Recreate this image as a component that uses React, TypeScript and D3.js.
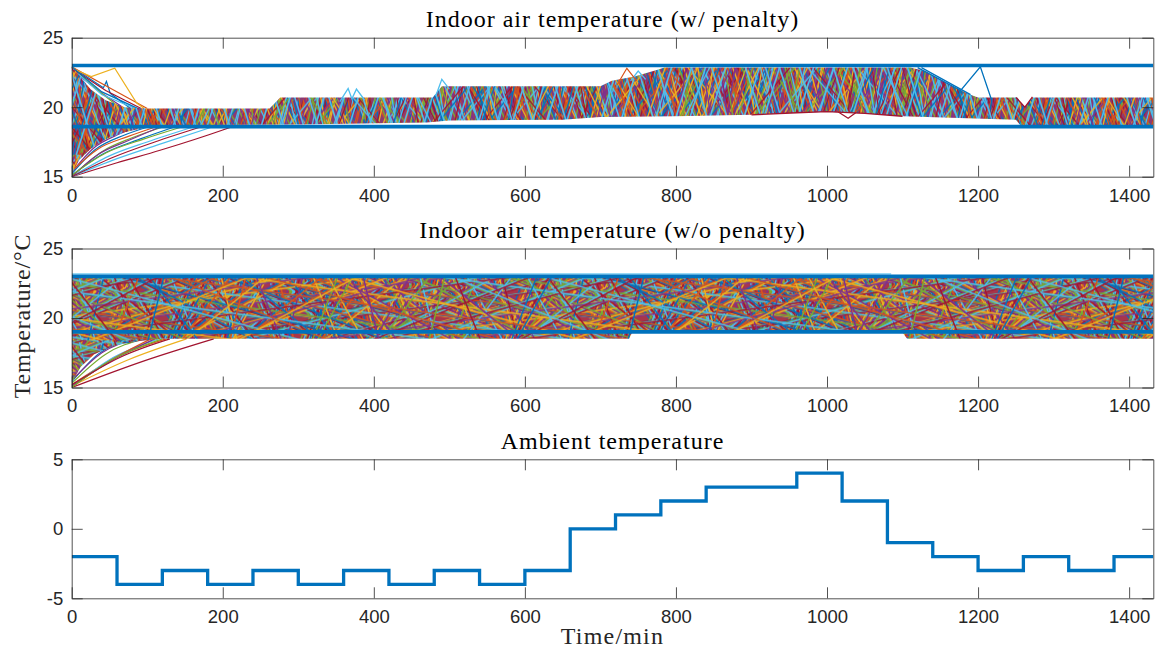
import React, { useEffect, useRef } from "react";
import * as d3 from "d3";

// MATLAB default line colours
const palette = ["#0072BD", "#D95319", "#EDB120", "#7E2F8E", "#77AC30", "#4DBEEE", "#A2142F"];

const timeMax = 1432;
const xTicks = [0, 200, 400, 600, 800, 1000, 1200, 1400];
const indoorTicks = [15, 20, 25];
const ambientTicks = [-5, 0, 5];

const titles = [
  "Indoor air temperature (w/ penalty)",
  "Indoor air temperature (w/o penalty)",
  "Ambient temperature",
];

// comfort bounds (thick blue lines)
const boundsPenalty = [18.6, 23];
const boundsNoPenalty = [19, 23];

// ambient temperature, hourly steps
const ambientHours = [0, 60, 120, 180, 240, 300, 360, 420, 480, 540, 600, 660, 720, 780, 840, 900, 960, 1020, 1080, 1140, 1200, 1260, 1320, 1380];
const ambientTemp = [-2, -4, -3, -4, -3, -4, -3, -4, -3, -4, -3, 0, 1, 2, 3, 3, 4, 2, -1, -2, -3, -2, -3, -2];

// envelope of the many trajectories, w/ penalty  [time, temp]
const penaltyUpper: [number, number][] = [
  [0, 22.9], [10, 22.3], [25, 21.3], [45, 20.5], [70, 20.0], [100, 19.9], [262, 19.9], [276, 20.7],
  [478, 20.7], [490, 21.5], [700, 21.5], [715, 21.9], [745, 22.2], [770, 22.6], [785, 22.85],
  [1110, 22.85], [1130, 22.6], [1150, 22.0], [1170, 21.4], [1190, 20.9], [1200, 20.7], [1252, 20.7],
  [1262, 20.0], [1272, 20.7], [1432, 20.7],
];
const penaltyLower: [number, number][] = [
  [0, 15.2], [10, 16.2], [25, 17.0], [45, 17.7], [70, 18.2], [100, 18.55], [130, 18.7], [300, 18.75],
  [470, 18.9], [500, 19.05], [650, 19.1], [700, 19.3], [800, 19.35], [900, 19.45], [960, 19.6],
  [1000, 19.68], [1050, 19.55], [1100, 19.35], [1250, 19.1], [1256, 18.7], [1432, 18.65],
];

// envelope, w/o penalty
const noPenaltyUpper: [number, number][] = [[0, 22.9], [1432, 22.9]];
const noPenaltyLower: [number, number][] = [
  [0, 15.3], [12, 16.5], [30, 17.4], [55, 18.0], [90, 18.35], [120, 18.5], [738, 18.5], [742, 18.95],
  [1100, 18.95], [1106, 18.5], [1432, 18.5],
];

// individual trajectories that stand out of the mass
const penaltyRise: [number, number][][] = [
  [[0, 15.2], [30, 16.9], [70, 18.0], [105, 18.65]],
  [[0, 15.6], [25, 17.3], [50, 18.1], [75, 18.65]],
  [[0, 16.0], [20, 17.4], [45, 18.2], [65, 18.65]],
  [[0, 15.3], [30, 17.1], [60, 18.0], [90, 18.65]],
  [[0, 15], [40, 16.8], [80, 17.8], [125, 18.65]],
  [[0, 15], [50, 16.5], [100, 17.5], [165, 18.65]],
  [[0, 15], [60, 16.0], [117, 16.9], [200, 18.36], [215, 18.65]],
  [[0, 15.1], [40, 16.6], [90, 17.7], [140, 18.65]],
  [[0, 15.4], [35, 17.0], [75, 17.9], [115, 18.65]],
  [[0, 15.8], [30, 17.4], [60, 18.1], [85, 18.65]],
  [[0, 15.0], [35, 16.6], [75, 17.6], [120, 18.65]],
  [[0, 15.1], [45, 16.7], [95, 17.7], [150, 18.65]],
  [[0, 15], [60, 16.3], [120, 17.4], [190, 18.65]],
  [[0, 15], [55, 16.4], [110, 17.5], [175, 18.65]],
];
const penaltyFall: [number, number][][] = [
  [[0, 22.9], [42, 21.4], [46, 21.85], [51, 21.0], [78, 19.9]],
  [[0, 22.9], [50, 21.4], [100, 19.9]],
  [[0, 22.8], [26, 22.2], [57, 22.8], [86, 20.3], [96, 19.9]],
  [[0, 22.7], [40, 21.0], [70, 19.9]],
  [[0, 22.9], [35, 21.2], [65, 19.9]],
  [[0, 22.9], [6, 22.5], [40, 20.9], [85, 19.9]],
  [[0, 22.8], [45, 21.2], [92, 19.9]],
  [[0, 22.9], [40, 21.1], [88, 19.9]],
];
const penaltyCyanSpikes: [number, number][][] = [
  [[355, 20.4], [366, 21.35], [371, 20.6], [377, 21.3], [388, 20.5]],
  [[482, 20.8], [490, 22.0], [500, 21.3]],
  [[740, 21.9], [750, 22.6], [760, 22.0]],
];
const penaltyOrangeSpikes: [number, number][][] = [
  [[722, 21.6], [735, 22.8], [748, 21.9]],
];
const penaltyBlueSpikes: [number, number][][] = [
  [[1120, 22.85], [1177, 21.2], [1203, 22.9], [1218, 20.5]],
  [[1125, 22.85], [1190, 20.9]],
];
const penaltyRedSpikes: [number, number][][] = [
  [[1250, 20.7], [1262, 20.0], [1272, 20.75]],
  [[1015, 19.65], [1028, 19.2], [1038, 19.6]],
  [[900, 19.45], [960, 19.6], [1000, 19.68], [1050, 19.55], [1100, 19.35]],
];

const noPenaltyRise: [number, number][][] = [
  [[0, 15.4], [35, 17.4], [80, 18.5]],
  [[0, 15.2], [60, 17.2], [125, 18.5]],
  [[0, 15.1], [75, 17.0], [152, 18.5]],
  [[0, 15.5], [40, 17.5], [85, 18.5]],
  [[0, 15.3], [45, 17.4], [95, 18.5]],
  [[0, 15.0], [50, 17.0], [115, 18.5]],
  [[0, 15], [95, 16.9], [188, 18.5]],
  [[0, 15.8], [30, 17.6], [70, 18.5]],
  [[0, 15], [50, 16.9], [105, 18.5]],
  [[0, 16.2], [25, 17.8], [60, 18.5]],
  [[0, 15.1], [55, 17.0], [110, 18.5]],
  [[0, 15.0], [50, 16.9], [120, 18.5]],
  [[0, 16.6], [25, 18.0], [50, 18.5]],
  [[0, 15.2], [65, 17.2], [130, 18.5]],
];
const noPenaltyTopEdge: [number, number][] = [[0, 23.17], [1085, 23.17]];

const W = 1163, H = 654;
const plotLeft = 71.7, plotRight = 1153.3, plotH = 139;
const panelTops = [37.7, 248.5, 459.3];
const axisColor = "#262626";
const sans = "'Liberation Sans', Arial, Helvetica, sans-serif";
const serif = "'Liberation Serif', 'Times New Roman', serif";

// crossing-line texture standing in for the hundreds of simulated runs
function addTexture(defs: any, id: string, y0: number, tw: number, th: number, base: string,
  slopes: number[], count: number, step: number, width: number) {
  const p = defs.append("pattern").attr("id", id).attr("patternUnits", "userSpaceOnUse")
    .attr("x", 0).attr("y", y0).attr("width", tw).attr("height", th);
  p.append("rect").attr("width", tw).attr("height", th).attr("fill", base);
  for (let i = 0; i < count; i++) {
    const m = slopes[(i * 5 + Math.floor(i / 11)) % slopes.length];
    const x0 = (i * step) % tw;
    const c = palette[(i + Math.floor(i / 7) * 3) % palette.length];
    for (let a = -2; a <= 2; a++) {
      const xa = x0 + a * tw;
      p.append("line")
        .attr("x1", xa - th / m).attr("y1", -th)
        .attr("x2", xa + (2 * th) / m).attr("y2", 2 * th)
        .attr("stroke", c).attr("stroke-width", width);
    }
  }
  return p;
}

export default function App() {
  const ref = useRef<SVGSVGElement>(null);

  useEffect(() => {
    const svg = d3.select(ref.current);
    svg.selectAll("*").remove();
    const defs = svg.append("defs");

    const x = d3.scaleLinear().domain([0, timeMax]).range([plotLeft, plotRight]);
    const yIndoor = (i: number) => d3.scaleLinear().domain([15, 25]).range([panelTops[i] + plotH, panelTops[i]]);
    const y1 = yIndoor(0);
    const y2 = yIndoor(1);
    const y3 = d3.scaleLinear().domain([-5, 5]).range([panelTops[2] + plotH, panelTops[2]]);

    const tp = addTexture(defs, "texPenalty", y1(23.2), 480, 92, "#8e3a6e",
      [3.5, -3.5, 2, -2, 6, -6, 2.8, -2.8, 1.2, -1.2, 4.5, -4.5, 1.6], 620, 97, 1.3);
    for (let i = 0; i < 40; i++) {
      const m = i % 2 ? -3.2 : 3.2;
      const x0 = (i * 71) % 480;
      for (let a = -1; a <= 1; a++) {
        tp.append("line").attr("x1", x0 + a * 480 - 92 / m).attr("y1", -92)
          .attr("x2", x0 + a * 480 + 184 / m).attr("y2", 184)
          .attr("stroke", palette[5]).attr("stroke-width", 1.6);
      }
    }
    addTexture(defs, "texNoPenalty", y2(23), 480, 64, "#a8364a",
      [0.133, -0.133, 0.267, -0.267, 0.4, -0.4, 0.533, -0.533, 0.8, -0.8, 1.3, -1.3, 2.5, -2.5, 4, -4, 1.8, -1.8],
      460, 97, 1.4);

    panelTops.forEach((top, i) => {
      defs.append("clipPath").attr("id", `clip${i}`).append("rect")
        .attr("x", plotLeft).attr("y", top).attr("width", plotRight - plotLeft).attr("height", plotH);
    });

    const drawPanel = (i: number, y: d3.ScaleLinear<number, number>, yTicks: number[]) => {
      const g = svg.append("g");
      const plot = g.append("g").attr("clip-path", `url(#clip${i})`);
      const top = panelTops[i], bottom = top + plotH;

      // title
      g.append("text").attr("x", (plotLeft + plotRight) / 2).attr("y", top - 10.5)
        .attr("text-anchor", "middle").attr("font-family", serif).attr("font-size", 24)
        .attr("letter-spacing", 1).attr("fill", "#000").text(titles[i]);

      const ax = (sel: any) => {
        sel.selectAll("path,line").attr("stroke", axisColor).attr("stroke-width", 0.8);
        sel.selectAll("text").attr("font-family", sans).attr("font-size", 18.5).attr("fill", axisColor);
      };
      g.append("g").attr("transform", `translate(0,${bottom})`)
        .call(d3.axisBottom(x).tickValues(xTicks).tickSizeInner(-11).tickSizeOuter(0).tickPadding(11.7)
          .tickFormat((d: any) => String(d))).call(ax);
      g.append("g").attr("transform", `translate(0,${top})`)
        .call(d3.axisTop(x).tickValues(xTicks).tickSizeInner(-11).tickSizeOuter(0).tickFormat(() => "")).call(ax);
      g.append("g").attr("transform", `translate(${plotLeft},0)`)
        .call(d3.axisLeft(y).tickValues(yTicks).tickSizeInner(-11).tickSizeOuter(0).tickPadding(8.4)
          .tickFormat((d: any) => String(d))).call(ax);
      g.append("g").attr("transform", `translate(${plotRight},0)`)
        .call(d3.axisRight(y).tickValues(yTicks).tickSizeInner(-11).tickSizeOuter(0).tickFormat(() => "")).call(ax);
      return plot;
    };

    const line = (y: d3.ScaleLinear<number, number>, curve: any = d3.curveLinear) =>
      d3.line<[number, number]>().x(d => x(d[0])).y(d => y(d[1])).curve(curve);

    const band = (plot: any, y: any, upper: [number, number][], lower: [number, number][], tex: string) => {
      const pts = upper.concat(lower.slice().reverse());
      plot.append("path").attr("d", line(y)(pts) + "Z").attr("fill", `url(#${tex})`);
    };
    const runs = (plot: any, y: any, data: [number, number][][], color: ((k: number) => string), curve: any, w = 1) => {
      data.forEach((d, k) => {
        plot.append("path").attr("d", line(y, curve)(d)).attr("fill", "none")
          .attr("stroke", color(k)).attr("stroke-width", w);
      });
    };
    const bounds = (plot: any, y: any, vals: number[]) => {
      vals.forEach(b => {
        plot.append("path").attr("d", line(y)([[0, b], [timeMax, b]])).attr("fill", "none")
          .attr("stroke", palette[0]).attr("stroke-width", 3.7);
      });
    };
    const cyc = (k: number) => palette[k % palette.length];

    // panel 1
    const p1 = drawPanel(0, y1, indoorTicks);
    runs(p1, y1, penaltyRise, cyc, d3.curveMonotoneX, 1.2);
    runs(p1, y1, penaltyFall, cyc, d3.curveLinear, 1.2);
    band(p1, y1, penaltyUpper, penaltyLower, "texPenalty");
    runs(p1, y1, penaltyRedSpikes, () => palette[6], d3.curveLinear, 1.3);
    runs(p1, y1, penaltyCyanSpikes, () => palette[5], d3.curveLinear, 1.3);
    runs(p1, y1, penaltyOrangeSpikes, () => palette[1], d3.curveLinear, 1.2);
    runs(p1, y1, penaltyBlueSpikes, () => palette[0], d3.curveLinear, 1.3);
    bounds(p1, y1, boundsPenalty);

    // panel 2
    const p2 = drawPanel(1, y2, indoorTicks);
    runs(p2, y2, noPenaltyRise, cyc, d3.curveMonotoneX, 1.2);
    band(p2, y2, noPenaltyUpper, noPenaltyLower, "texNoPenalty");
    runs(p2, y2, [noPenaltyTopEdge], () => palette[5], d3.curveLinear, 1);
    bounds(p2, y2, boundsNoPenalty);

    // panel 3
    const p3 = drawPanel(2, y3, ambientTicks);
    const amb: [number, number][] = ambientHours.map((t, k) => [t, ambientTemp[k]] as [number, number]);
    amb.push([timeMax, ambientTemp[ambientTemp.length - 1]]);
    p3.append("path").attr("d", line(y3, d3.curveStepAfter)(amb)).attr("fill", "none")
      .attr("stroke", palette[0]).attr("stroke-width", 3.3);

    // axis labels
    svg.append("text").attr("x", (plotLeft + plotRight) / 2).attr("y", 644)
      .attr("text-anchor", "middle").attr("font-family", serif).attr("font-size", 24)
      .attr("letter-spacing", 1.2).attr("fill", axisColor).text("Time/min");
    svg.append("text").attr("transform", `translate(29.5,${316}) rotate(-90)`)
      .attr("text-anchor", "middle").attr("font-family", serif).attr("font-size", 24)
      .attr("letter-spacing", 0.8).attr("fill", axisColor).text("Temperature/°C");
  }, []);

  return (
    <div>
      <style>{`body{margin:0;background:#fff}`}</style>
      <svg ref={ref} width={W} height={H} style={{ display: "block" }} />
    </div>
  );
}
